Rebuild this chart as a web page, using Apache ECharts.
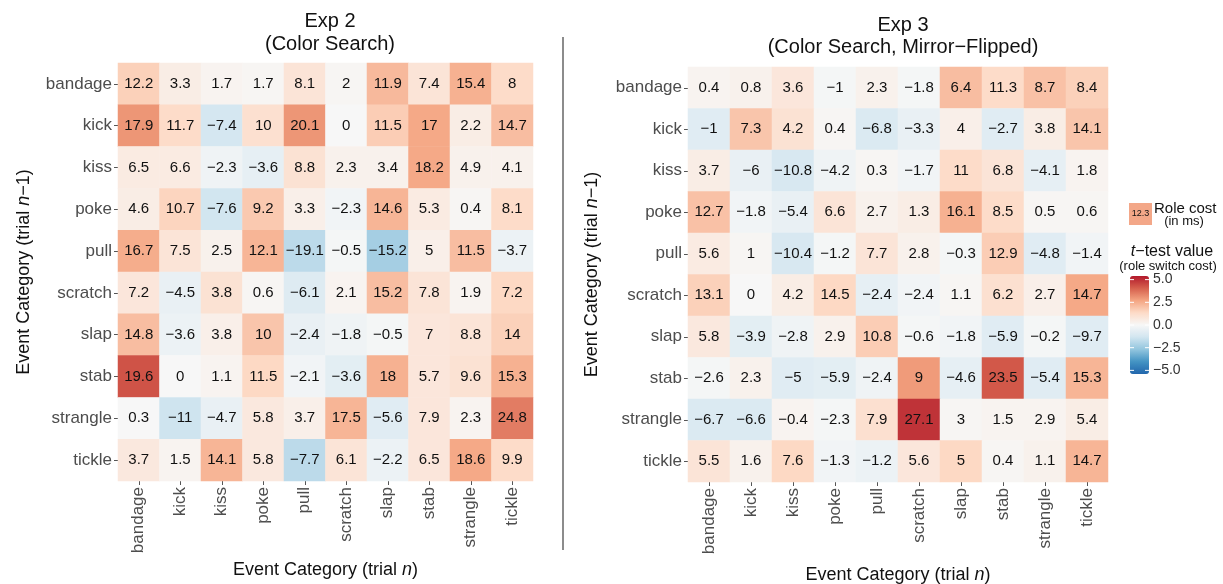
<!DOCTYPE html>
<html><head><meta charset="utf-8">
<script src="https://cdn.jsdelivr.net/npm/echarts@6/dist/echarts.min.js"></script>
<style>html,body{margin:0;padding:0;background:#fff}#c{width:1223px;height:584px}</style>
</head><body><div id="c"></div>
<script>
const categories = ['bandage','kick','kiss','poke','pull','scratch','slap','stab','strangle','tickle'];

// Exp 2: rows = trial n-1, cols = trial n ; role cost in ms
const exp2Cost = [
  [12.2, 3.3, 1.7, 1.7, 8.1, 2, 11.9, 7.4, 15.4, 8],
  [17.9, 11.7, -7.4, 10, 20.1, 0, 11.5, 17, 2.2, 14.7],
  [6.5, 6.6, -2.3, -3.6, 8.8, 2.3, 3.4, 18.2, 4.9, 4.1],
  [4.6, 10.7, -7.6, 9.2, 3.3, -2.3, 14.6, 5.3, 0.4, 8.1],
  [16.7, 7.5, 2.5, 12.1, -19.1, -0.5, -15.2, 5, 11.5, -3.7],
  [7.2, -4.5, 3.8, 0.6, -6.1, 2.1, 15.2, 7.8, 1.9, 7.2],
  [14.8, -3.6, 3.8, 10, -2.4, -1.8, -0.5, 7, 8.8, 14],
  [19.6, 0, 1.1, 11.5, -2.1, -3.6, 18, 5.7, 9.6, 15.3],
  [0.3, -11, -4.7, 5.8, 3.7, 17.5, -5.6, 7.9, 2.3, 24.8],
  [3.7, 1.5, 14.1, 5.8, -7.7, 6.1, -2.2, 6.5, 18.6, 9.9]
];
// Exp 2: t-test values (estimated from fill colour)
const exp2T = [
  [1.6, 0.5, 0.2, 0.1, 0.9, 0.1, 2.2, 0.9, 2.4, 1.3],
  [3.0, 1.3, -1.2, 1.1, 3.0, 0.0, 1.7, 2.6, 0.5, 2.1],
  [0.6, 0.6, -0.3, -0.6, 1.0, 0.3, 0.3, 2.6, 0.3, 0.3],
  [0.5, 1.5, -1.3, 1.8, 0.4, -0.2, 2.3, 0.6, 0.1, 1.3],
  [2.5, 0.9, 0.3, 2.3, -1.8, -0.1, -2.3, 0.4, 2.1, -0.4],
  [0.8, -0.5, 1.0, 0.1, -0.9, 0.2, 2.1, 0.9, 0.2, 1.4],
  [2.1, -0.4, 0.4, 1.9, -0.5, -0.3, -0.1, 0.8, 0.9, 1.6],
  [4.3, 0.0, 0.2, 1.4, -0.2, -0.7, 2.4, 0.8, 1.0, 2.4],
  [0.0, -1.4, -0.5, 0.7, 0.4, 2.3, -0.8, 0.8, 0.2, 3.5],
  [0.7, 0.2, 2.3, 0.7, -1.8, 0.9, -0.4, 0.8, 2.6, 1.3]
];
// Exp 3
const exp3Cost = [
  [0.4, 0.8, 3.6, -1, 2.3, -1.8, 6.4, 11.3, 8.7, 8.4],
  [-1, 7.3, 4.2, 0.4, -6.8, -3.3, 4, -2.7, 3.8, 14.1],
  [3.7, -6, -10.8, -4.2, 0.3, -1.7, 11, 6.8, -4.1, 1.8],
  [12.7, -1.8, -5.4, 6.6, 2.7, 1.3, 16.1, 8.5, 0.5, 0.6],
  [5.6, 1, -10.4, -1.2, 7.7, 2.8, -0.3, 12.9, -4.8, -1.4],
  [13.1, 0, 4.2, 14.5, -2.4, -2.4, 1.1, 6.2, 2.7, 14.7],
  [5.8, -3.9, -2.8, 2.9, 10.8, -0.6, -1.8, -5.9, -0.2, -9.7],
  [-2.6, 2.3, -5, -5.9, -2.4, 9, -4.6, 23.5, -5.4, 15.3],
  [-6.7, -6.6, -0.4, -2.3, 7.9, 27.1, 3, 1.5, 2.9, 5.4],
  [5.5, 1.6, 7.6, -1.3, -1.2, 5.6, 5, 0.4, 1.1, 14.7]
];
const exp3T = [
  [0.2, 0.3, 0.8, -0.1, 0.3, -0.1, 2.1, 1.3, 2.0, 1.6],
  [-0.8, 1.9, 1.0, 0.1, -1.0, -0.5, 0.4, -0.8, 0.5, 1.9],
  [0.5, -0.5, -1.1, -0.3, 0.1, -0.2, 1.3, 0.9, -0.6, 0.2],
  [2.0, -0.2, -0.5, 0.9, 0.3, 0.5, 2.4, 1.3, 0.1, 0.1],
  [0.6, 0.1, -1.1, -0.1, 0.9, 0.3, -0.1, 1.7, -0.8, -0.2],
  [1.6, 0.0, 0.5, 1.4, -0.6, -0.2, 0.1, 1.1, 0.4, 2.6],
  [0.7, -0.7, -0.3, 0.3, 1.7, -0.1, -0.2, -0.8, -0.1, -0.8],
  [-0.1, 0.3, -0.8, -0.7, -0.3, 2.9, -0.6, 4.2, -0.8, 2.3],
  [-1.0, -1.0, 0.2, -0.1, 1.1, 4.9, 0.1, 0.2, 0.2, 0.5],
  [0.9, 0.3, 1.4, -0.2, -0.4, 0.8, 1.4, 0.1, 0.3, 2.3]
];
const tTicks = [5.0, 2.5, 0.0, -2.5, -5.0];
const tTickLabels = ['5.0', '2.5', '0.0', '\u22122.5', '\u22125.0'];

function toData(cost, t) {
  const out = [];
  for (let r = 0; r < categories.length; r++)
    for (let c = 0; c < categories.length; c++)
      out.push([c, r, cost[r][c], t[r][c]]);
  return out;
}
const fmt = v => (v < 0 ? '\u2212' + String(-v) : String(v));
const FONT = "'Liberation Sans', Arial, Helvetica, sans-serif";

function xAxis(gi) {
  return {
    type: 'category', gridIndex: gi, data: categories,
    axisLine: {show: false},
    axisTick: {show: true, alignWithLabel: true, length: 4, lineStyle: {color: '#555'}},
    axisLabel: {rotate: 90, fontSize: 17, color: '#4d4d4d', margin: 6, fontFamily: FONT},
    splitLine: {show: false},
    name: 'Event Category (trial {i|n})', nameLocation: 'middle', nameGap: gi === 0 ? 80 : 84,
    nameTextStyle: {fontSize: 18, color: '#111', fontFamily: FONT,
      rich: {i: {fontStyle: 'italic', fontSize: 18, color: '#111', fontFamily: FONT}}}
  };
}
function yAxis(gi) {
  return {
    type: 'category', gridIndex: gi, data: categories, inverse: true,
    axisLine: {show: false},
    axisTick: {show: true, alignWithLabel: true, length: 4, lineStyle: {color: '#555'}},
    axisLabel: {fontSize: 17, color: '#4d4d4d', margin: 6, fontFamily: FONT},
    splitLine: {show: false},
    name: 'Event Category (trial {i|n}\u22121)', nameLocation: 'middle', nameGap: gi === 0 ? 85 : 87,
    nameRotate: 90,
    nameTextStyle: {fontSize: 18, color: '#111', fontFamily: FONT,
      rich: {i: {fontStyle: 'italic', fontSize: 18, color: '#111', fontFamily: FONT}}}
  };
}
function series(gi, cost, t) {
  return {
    type: 'heatmap', xAxisIndex: gi, yAxisIndex: gi,
    data: toData(cost, t),
    label: {show: true, formatter: p => fmt(p.value[2]), fontSize: 15, color: '#111', fontFamily: FONT},
    itemStyle: {borderWidth: 0},
    emphasis: {disabled: true}
  };
}

const vmTop = 276, vmH = 98, vmMin = -5.4, vmMax = 5.4;
const graphics = [
  {type: 'line', shape: {x1: 563, y1: 37, x2: 563, y2: 550}, style: {stroke: '#666', lineWidth: 1.5}},
  {type: 'rect', shape: {x: 1129, y: 203, width: 23, height: 22}, style: {fill: '#f3a788'}},
  {type: 'text', x: 1140.5, y: 214, style: {text: '12.3', fontSize: 9, fill: '#111', align: 'center', verticalAlign: 'middle', fontFamily: FONT}},
  {type: 'text', x: 1154, y: 209, style: {text: 'Role cost', fontSize: 15, fill: '#111', align: 'left', verticalAlign: 'middle', fontFamily: FONT}},
  {type: 'text', x: 1184, y: 221, style: {text: '(in ms)', fontSize: 13, fill: '#111', align: 'center', verticalAlign: 'middle', fontFamily: FONT}},
  {type: 'text', x: 1172, y: 252, style: {rich: {i: {fontStyle: 'italic', fontSize: 16, fill: '#111', fontFamily: FONT}, r: {fontSize: 16, fill: '#111', fontFamily: FONT}}, text: '{i|t}{r|\u2212test value}', align: 'center', verticalAlign: 'middle'}},
  {type: 'text', x: 1168, y: 266, style: {text: '(role switch cost)', fontSize: 13, fill: '#111', align: 'center', verticalAlign: 'middle', fontFamily: FONT}}
];
tTicks.forEach((v, i) => {
  const y = vmTop + (vmMax - v) / (vmMax - vmMin) * vmH;
  graphics.push({type: 'text', x: 1153, y: y, style: {text: tTickLabels[i], fontSize: 14, fill: '#333', align: 'left', verticalAlign: 'middle', fontFamily: FONT}});
  graphics.push({type: 'line', shape: {x1: 1130, y1: y, x2: 1134, y2: y}, style: {stroke: '#fff', lineWidth: 1}, z: 100});
  graphics.push({type: 'line', shape: {x1: 1145, y1: y, x2: 1149, y2: y}, style: {stroke: '#fff', lineWidth: 1}, z: 100});
});

const chart = echarts.init(document.getElementById('c'), null, {renderer: 'canvas'});
chart.setOption({
  animation: false,
  backgroundColor: '#fff',
  textStyle: {fontFamily: FONT},
  title: [
    {text: 'Exp 2\n(Color Search)', left: 325, top: 5, textAlign: 'center',
      textStyle: {fontSize: 20, fontWeight: 'normal', color: '#111', lineHeight: 23, fontFamily: FONT}},
    {text: 'Exp 3\n(Color Search, Mirror\u2212Flipped)', left: 898, top: 9, textAlign: 'center',
      textStyle: {fontSize: 20, fontWeight: 'normal', color: '#111', lineHeight: 22, fontFamily: FONT}}
  ],
  grid: [
    {left: 118, top: 63, width: 415, height: 418, outerBoundsMode: 'none', containLabel: false},
    {left: 688, top: 67, width: 420, height: 415, outerBoundsMode: 'none', containLabel: false}
  ],
  xAxis: [xAxis(0), xAxis(1)],
  yAxis: [yAxis(0), yAxis(1)],
  visualMap: {
    type: 'continuous', min: vmMin, max: vmMax, dimension: 3, seriesIndex: [0, 1],
    calculable: false, left: 1130, top: vmTop, itemWidth: 19, itemHeight: vmH,
    padding: 0, showLabel: false, hoverLink: false,
    inRange: {color: ['#2166ac', '#4393c3', '#92c5de', '#d1e5f0', '#f7f7f7', '#fddbc7', '#f4a582', '#d6604d', '#b2182b']}
  },
  series: [series(0, exp2Cost, exp2T), series(1, exp3Cost, exp3T)],
  graphic: graphics
});
</script></body></html>
